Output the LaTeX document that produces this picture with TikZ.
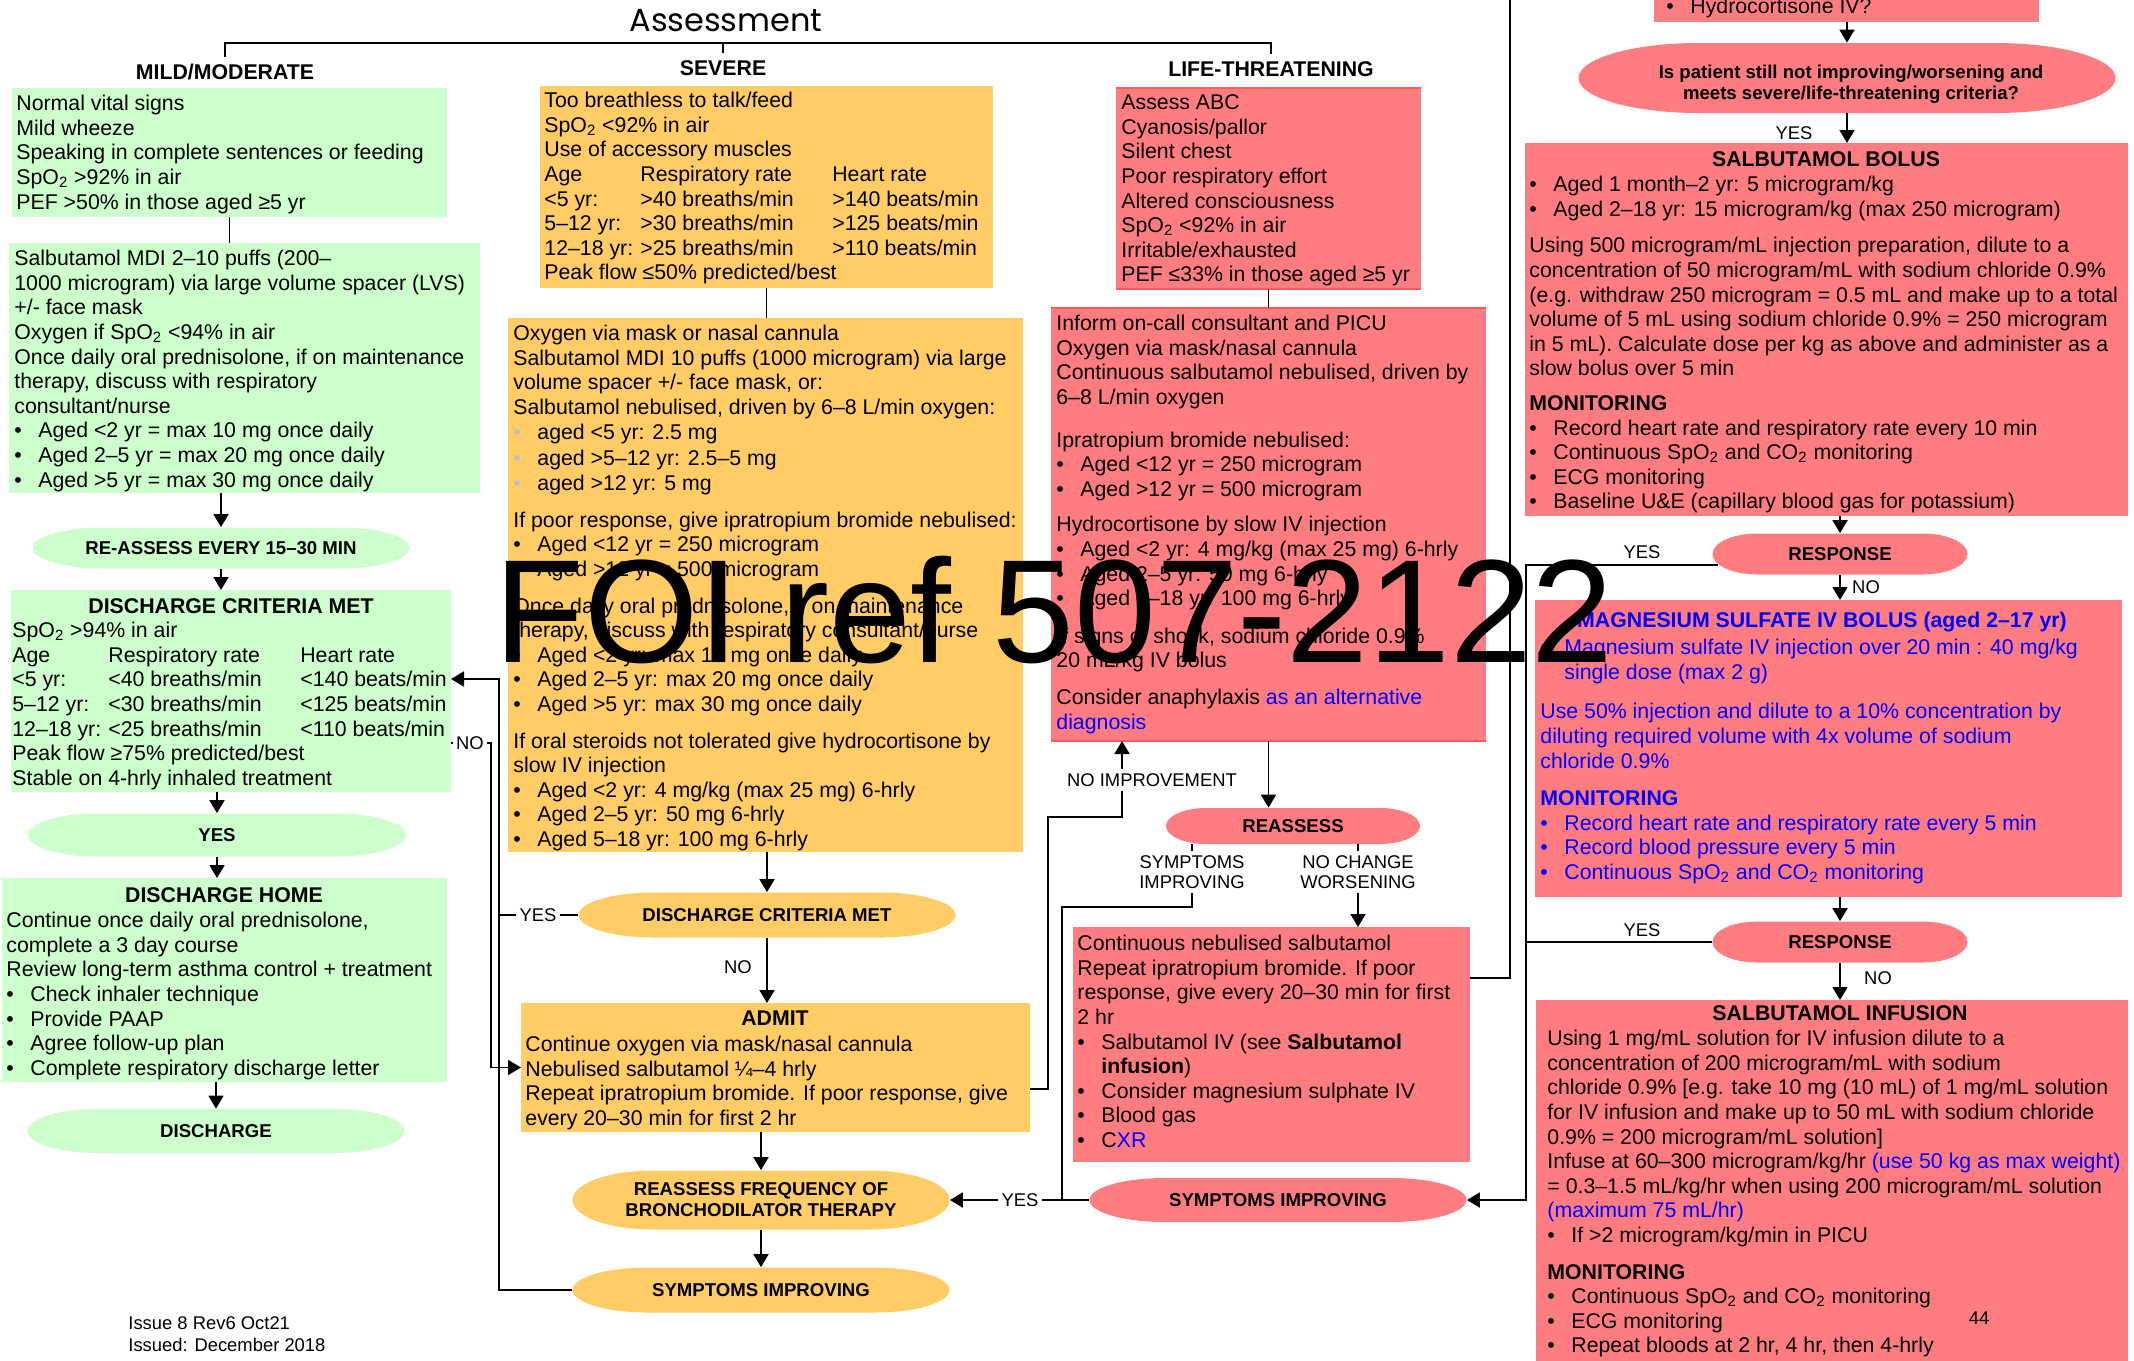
\documentclass[tikz,border=0pt]{standalone}
\usepackage{fontspec}
\setmainfont{Liberation Sans}
\newfontfamily\titlefont{Poppins}
\usetikzlibrary{arrows.meta}

\definecolor{mildgreen}{HTML}{CCFFCC}
\definecolor{severeorange}{HTML}{FFCC66}
\definecolor{lifered}{HTML}{FF7C80}
\definecolor{rimred}{HTML}{FF5A5A}
\definecolor{noteblue}{HTML}{0000FF}
\definecolor{bulgrey}{HTML}{BFBFBF}

\newcommand\bodyf{\fontsize{10.65}{12.3}\selectfont}
\newcommand\headf{\bfseries\fontsize{10.65}{12.3}\selectfont}
\newcommand\pillf{\bfseries\fontsize{9.3}{10.5}\selectfont}
\newcommand\labf{\fontsize{9.2}{10}\selectfont}
\newcommand\bul{\makebox[12pt][l]{\textbullet}}
\newcommand\gbul{\makebox[12pt][l]{\textcolor{bulgrey}{\textbullet}}}
\newcommand\contind{\hspace*{12pt}}
\newcommand\spo{SpO\textsubscript{2}}
\newcommand\cotwo{CO\textsubscript{2}}
\newcommand\trow[3]{\makebox[48pt][l]{#1}\makebox[96pt][l]{#2}#3}
\newcommand\nb[1]{\textcolor{noteblue}{#1}}

\tikzset{
  panel/.style={anchor=north west, inner sep=0pt, outer sep=0pt},
  txt/.style={anchor=north west, inner sep=0pt, align=left, font=\bodyf},
  head/.style={inner sep=0pt, font=\headf},
  colhead/.style={inner sep=3.5pt, text height=7.6pt, text depth=0pt, font=\headf},
  pilltext/.style={inner sep=0pt, align=center, font=\pillf},
  lab/.style={inner sep=2pt, align=center, font=\labf},
  conn/.style={line width=0.9pt, draw=black},
  arr/.style={conn, -{Triangle[width=7.5pt,length=6.5pt]}},
  redrim/.style={draw=rimred, line width=1.2pt},
}

% rectangular panel: name, x1, y1, x2, y2, colour
\newcommand\mkpanel[6]{\node[panel, fill=#6, minimum width={(#4-#2)*0.5pt}, minimum height={(#5-#3)*0.5pt}] (#1) at (#2,#3) {};}

% pill with elliptical end caps: name, cx, cy, width, height, cap radius, colour, text
\newcommand\mkpill[8]{%
  \fill[#7] ({#2-#4/2+#6},{#3-#5/2}) -- ({#2+#4/2-#6},{#3-#5/2})
    arc[start angle=90, end angle=-90, x radius={#6*0.5pt}, y radius={#5*0.25pt}]
    -- ({#2-#4/2+#6},{#3+#5/2})
    arc[start angle=270, end angle=90, x radius={#6*0.5pt}, y radius={#5*0.25pt}] -- cycle;
  \node[pilltext, minimum width={#4*0.5pt}, minimum height={#5*0.5pt}] (#1) at (#2,#3) {#8};}

\begin{document}
\begin{tikzpicture}[x=0.5pt, y=-0.5pt]
\path[use as bounding box] (0,0) rectangle (2134,1360);
\clip (0,0) rectangle (2134,1360);
\fill[white] (0,0) rectangle (2134,1360);

% ---------- title and severity headings ----------
\node[font={\titlefont\fontsize{16}{18}\selectfont}, inner sep=0pt] (ttl) at (726,21) {Assessment};
\node[colhead] (hmild) at (225,72) {MILD/MODERATE};
\node[colhead] (hsev) at (723,68) {SEVERE};
\node[colhead] (hlife) at (1271,69) {LIFE-THREATENING};
\coordinate (bar) at (723,43);
\draw[conn] (hmild.north) |- (bar) -| (hlife.north);
\draw[conn] (hsev.north) -- (hsev.north |- bar);

% ---------- mild / moderate ----------
\mkpanel{gb1}{12}{88}{447}{217}{mildgreen}
\node[txt] (gb1t) at (16,93) {\strut Normal vital signs\\Mild wheeze\\Speaking in complete sentences or feeding\\\spo{} >92\% in air\\PEF >50\% in those aged ≥5 yr};

\mkpanel{gb2}{9}{243}{480}{493}{mildgreen}
\node[txt] (gb2t) at (14,248) {\strut Salbutamol MDI 2–10 puffs (200–\\1000 microgram) via large volume spacer (LVS)\\+/- face mask\\Oxygen if \spo{} <94\% in air\\Once daily oral prednisolone, if on maintenance\\therapy, discuss with respiratory\\consultant/nurse\\\bul Aged <2 yr = max 10 mg once daily\\\bul Aged 2–5 yr = max 20 mg once daily\\\bul Aged >5 yr = max 30 mg once daily};

\mkpill{ea1}{221}{548}{377}{41}{70}{mildgreen}{RE-ASSESS EVERY 15–30 MIN}

\mkpanel{gb3}{11}{590}{451}{792}{mildgreen}
\node[head] (gb3h) at (231,606) {DISCHARGE CRITERIA MET};
\node[txt] (gb3t) at (12,620) {\strut \spo{} >94\% in air\\\trow{Age}{Respiratory rate}{Heart rate}\\\trow{<5 yr:}{<40 breaths/min}{<140 beats/min}\\\trow{5–12 yr:}{<30 breaths/min}{<125 beats/min}\\\trow{12–18 yr:}{<25 breaths/min}{<110 beats/min}\\Peak flow ≥75\% predicted/best\\Stable on 4-hrly inhaled treatment};

\mkpill{eyes}{217}{835}{378}{43}{70}{mildgreen}{YES}

\mkpanel{gb4}{2}{878}{447}{1082}{mildgreen}
\node[head] (gb4h) at (224,895) {DISCHARGE HOME};
\node[txt] (gb4t) at (6,910) {\strut Continue once daily oral prednisolone,\\complete a 3 day course\\Review long-term asthma control + treatment\\\bul Check inhaler technique\\\bul Provide PAAP\\\bul Agree follow-up plan\\\bul Complete respiratory discharge letter};

\mkpill{edis}{216}{1131}{377}{44}{70}{mildgreen}{DISCHARGE}

\node[lab, anchor=west, align=left, font={\fontsize{9.2}{11}\selectfont}] (foot) at (124,1334) {Issue 8 Rev6 Oct21\\Issued: December 2018};

\draw[conn] (gb1.south) -- (gb1.south |- gb2.north);
\draw[arr] (ea1.north |- gb2.south) -- (ea1.north);
\draw[arr] (ea1.south) -- (ea1.south |- gb3.north);
\draw[arr] (eyes.north |- gb3.south) -- (eyes.north);
\draw[arr] (eyes.south) -- (eyes.south |- gb4.north);
\draw[arr] (edis.north |- gb4.south) -- (edis.north);

% ---------- severe ----------
\mkpanel{ob1}{540}{86}{993}{288}{severeorange}
\node[txt] (ob1t) at (544,90) {\strut Too breathless to talk/feed\\\spo{} <92\% in air\\Use of accessory muscles\\\trow{Age}{Respiratory rate}{Heart rate}\\\trow{<5 yr:}{>40 breaths/min}{>140 beats/min}\\\trow{5–12 yr:}{>30 breaths/min}{>125 beats/min}\\\trow{12–18 yr:}{>25 breaths/min}{>110 beats/min}\\Peak flow ≤50\% predicted/best};

\mkpanel{ob2}{508}{318}{1023}{852}{severeorange}
\node[txt] (ob2t) at (513,323) {\strut Oxygen via mask or nasal cannula\\Salbutamol MDI 10 puffs (1000 microgram) via large\\volume spacer +/- face mask, or:\\Salbutamol nebulised, driven by 6–8 L/min oxygen:\\[0.4pt]\gbul aged <5 yr: 2.5 mg\\[0.4pt]\gbul aged >5–12 yr: 2.5–5 mg\\[0.4pt]\gbul aged >12 yr: 5 mg\\[6pt]If poor response, give ipratropium bromide nebulised:\\\bul Aged <12 yr = 250 microgram\\\bul Aged >12 yr = 500 microgram\\[6pt]Once daily oral prednisolone, if on maintenance\\therapy, discuss with respiratory consultant/nurse\\\bul Aged <2 yr: max 10 mg once daily\\\bul Aged 2–5 yr: max 20 mg once daily\\\bul Aged >5 yr: max 30 mg once daily\\[6pt]If oral steroids not tolerated give hydrocortisone by\\slow IV injection\\\bul Aged <2 yr: 4 mg/kg (max 25 mg) 6-hrly\\\bul Aged 2–5 yr: 50 mg 6-hrly\\\bul Aged 5–18 yr: 100 mg 6-hrly};

\mkpill{odcm}{767}{915}{377}{45}{75}{severeorange}{DISCHARGE CRITERIA MET}

\mkpanel{oadm}{521}{1003}{1030}{1132}{severeorange}
\node[head] (oadmh) at (775,1018) {ADMIT};
\node[txt] (oadmt) at (525,1034) {\strut Continue oxygen via mask/nasal cannula\\Nebulised salbutamol ¼–4 hrly\\Repeat ipratropium bromide. If poor response, give\\every 20–30 min for first 2 hr};

\mkpill{orf}{761}{1200}{377}{59}{80}{severeorange}{REASSESS FREQUENCY OF\\BRONCHODILATOR THERAPY}
\mkpill{osi}{761}{1290}{377}{45}{75}{severeorange}{SYMPTOMS IMPROVING}

\draw[conn] (ob1.south) -- (ob1.south |- ob2.north);
\draw[arr] (odcm.north |- ob2.south) -- (odcm.north);
\draw[arr] (odcm.south) -- (odcm.south |- oadm.north);
\node[lab] (lno2) at (738,967) {NO};
\draw[arr] (orf.north |- oadm.south) -- (orf.north);
\draw[arr] (orf.south) -- (osi.north);

% returns to the discharge criteria and on to admission
\coordinate (yx) at (499,679);
\draw[arr] (odcm.west) -| (yx) -- (gb3.east |- yx);
\draw[conn] (osi.west) -| (yx);
\node[lab, fill=white] (lyes1) at (538,915) {YES};
\coordinate (nol) at (491,743);
\draw[arr] (gb3.east |- nol) -- (nol) |- (oadm.west);
\node[lab, fill=white, inner sep=1.5pt] (lno1) at (470,743) {NO};

% ---------- life-threatening ----------
\mkpanel{rb1}{1116}{88}{1421}{289}{lifered}
\draw[redrim] (rb1.north west) -- (rb1.north east) (rb1.south west) -- (rb1.south east);
\node[txt] (rb1t) at (1121,92) {\strut Assess ABC\\Cyanosis/pallor\\Silent chest\\Poor respiratory effort\\Altered consciousness\\\spo{} <92\% in air\\Irritable/exhausted\\PEF ≤33\% in those aged ≥5 yr};

\mkpanel{rb2}{1051}{308}{1486}{741}{lifered}
\draw[redrim] (rb2.north west) -- (rb2.north east) (rb2.south west) -- (rb2.south east);
\node[txt] (rb2t) at (1056,313) {\strut Inform on-call consultant and PICU\\Oxygen via mask/nasal cannula\\Continuous salbutamol nebulised, driven by\\6–8 L/min oxygen\\[9pt]Ipratropium bromide nebulised:\\\bul Aged <12 yr = 250 microgram\\\bul Aged >12 yr = 500 microgram\\[5.5pt]Hydrocortisone by slow IV injection\\\bul Aged <2 yr: 4 mg/kg (max 25 mg) 6-hrly\\\bul Aged 2–5 yr: 50 mg 6-hrly\\\bul Aged 5–18 yr: 100 mg 6-hrly\\[6.5pt]If signs of shock, sodium chloride 0.9\%\\20 mL/kg IV bolus\\[6pt]Consider anaphylaxis \nb{as an alternative}\\\nb{diagnosis}};

\draw[conn] (rb1.south) -- (rb1.south |- rb2.north);

\mkpill{rre}{1293}{826}{254}{36}{40}{lifered}{REASSESS}
\draw[arr] (rb2.south) -- (rb2.south |- rre.north);
\node[lab] (lsymp) at (1192,872) {SYMPTOMS\\IMPROVING};
\node[lab] (lnochg) at (1358,872) {NO CHANGE\\WORSENING};
\draw[conn] (rre.south -| lsymp) -- (lsymp.north);
\draw[conn] (rre.south -| lnochg) -- (lnochg.north);

\mkpanel{rb3}{1073}{927}{1470}{1162}{lifered}
\draw[arr] (lnochg.south) -- (lnochg.south |- rb3.north);
\node[txt] (rb3t) at (1077,933) {\strut Continuous nebulised salbutamol\\Repeat ipratropium bromide. If poor\\response, give every 20–30 min for first\\2 hr\\\bul Salbutamol IV (see \textbf{Salbutamol}\\\contind\textbf{infusion})\\\bul Consider magnesium sulphate IV\\\bul Blood gas\\\bul C\nb{XR}};

\mkpill{rsi}{1278}{1200}{377}{44}{75}{lifered}{SYMPTOMS IMPROVING}
\draw[arr] (rsi.west) -- (orf.east);
\node[lab, fill=white] (lyes2) at (1020,1200) {YES};
\coordinate (sy1) at (1062,907);
\draw[conn] (lsymp.south) |- (sy1) -- (sy1 |- rsi.west);

\coordinate (niA) at (1048,1089);
\coordinate (niB) at (1122,817);
\draw[arr] (oadm.east |- niA) -- (niA) |- (niB) -- (niB |- rb2.south);
\node[lab, fill=white] (lni) at (1152,780) {NO IMPROVEMENT};

\coordinate (up1) at (1510,978);
\coordinate (topout) at (1510,0);
\draw[conn] (rb3.east |- up1) -- (up1) -- (topout);

% ---------- escalation column ----------
\mkpanel{rtop}{1654}{0}{2039}{22}{lifered}
\node[anchor=base west, inner sep=0pt, font=\bodyf] (rtopt) at (1666,13) {\bul Hydrocortisone IV?};

\mkpill{rq}{1847}{78}{537}{70}{120}{lifered}{}
\node[pilltext] (rqt) at (1851,84) {Is patient still not improving/worsening and\\meets severe/life-threatening criteria?};
\draw[arr] (rq.north |- rtop.south) -- (rq.north);

\mkpanel{rsb}{1525}{143}{2128}{516}{lifered}
\draw[arr] (rq.south) -- (rq.south |- rsb.north);
\node[lab] (lyes3) at (1794,133) {YES};
\node[head] (rsbh) at (1826,159) {SALBUTAMOL BOLUS};
\node[txt] (rsbt) at (1529,174) {\strut\bul Aged 1 month–2 yr: 5 microgram/kg\\\bul Aged 2–18 yr: 15 microgram/kg (max 250 microgram)\\[6pt]Using 500 microgram/mL injection preparation, dilute to a\\concentration of 50 microgram/mL with sodium chloride 0.9\%\\(e.g. withdraw 250 microgram = 0.5 mL and make up to a total\\volume of 5 mL using sodium chloride 0.9\% = 250 microgram\\in 5 mL). Calculate dose per kg as above and administer as a\\slow bolus over 5 min\\[5pt]\textbf{MONITORING}\\\bul Record heart rate and respiratory rate every 10 min\\\bul Continuous \spo{} and \cotwo{} monitoring\\\bul ECG monitoring\\\bul Baseline U\&E (capillary blood gas for potassium)};

\mkpill{rr1}{1840}{554}{255}{41}{45}{lifered}{RESPONSE}
\draw[arr] (rr1.north |- rsb.south) -- (rr1.north);
\coordinate (ry) at (1526,565);
\draw[arr] (rr1.west) ++(6,11) -- (ry) |- (rsi.east);
\node[lab] (lyes4) at (1642,552) {YES};

\mkpanel{rmg}{1535}{600}{2122}{897}{lifered}
\draw[arr] (rr1.south) -- (rr1.south |- rmg.north);
\node[lab] (lno3) at (1866,587) {NO};
\node[head, text=noteblue] (rmgh) at (1822,622) {MAGNESIUM SULFATE IV BOLUS (aged 2–17 yr)};
\node[txt, text=noteblue] (rmgt) at (1540,637) {\strut\bul Magnesium sulfate IV injection over 20 min : 40 mg/kg\\\contind single dose (max 2 g)\\[7.5pt]Use 50\% injection and dilute to a 10\% concentration by\\diluting required volume with 4x volume of sodium\\chloride 0.9\%\\[6.5pt]\textbf{MONITORING}\\\bul Record heart rate and respiratory rate every 5 min\\\bul Record blood pressure every 5 min\\\bul Continuous \spo{} and \cotwo{} monitoring};

\mkpill{rr2}{1840}{942}{255}{41}{45}{lifered}{RESPONSE}
\draw[arr] (rr2.north |- rmg.south) -- (rr2.north);
\draw[conn] (rr2.west) -- (rr2.west -| ry);
\node[lab] (lyes5) at (1642,930) {YES};

\mkpanel{rinf}{1536}{1000}{2128}{1370}{lifered}
\draw[arr] (rr2.south) -- (rr2.south |- rinf.north);
\node[lab] (lno4) at (1878,978) {NO};
\node[head] (rinfh) at (1840,1013) {SALBUTAMOL INFUSION};
\node[txt] (rinft) at (1547,1028) {\strut Using 1 mg/mL solution for IV infusion dilute to a\\concentration of 200 microgram/mL with sodium\\chloride 0.9\% [e.g. take 10 mg (10 mL) of 1 mg/mL solution\\for IV infusion and make up to 50 mL with sodium chloride\\0.9\% = 200 microgram/mL solution]\\Infuse at 60–300 microgram/kg/hr \nb{(use 50 kg as max weight)}\\= 0.3–1.5 mL/kg/hr when using 200 microgram/mL solution\\\nb{(maximum 75 mL/hr)}\\\bul If >2 microgram/kg/min in PICU\\[6pt]\textbf{MONITORING}\\\bul Continuous \spo{} and \cotwo{} monitoring\\\bul ECG monitoring\\\bul Repeat bloods at 2 hr, 4 hr, then 4-hrly};
\node[lab] (pgno) at (1979,1318) {44};

% ---------- reference stamp ----------
\node[anchor=base west, inner sep=0pt, font={\fontsize{73.5}{80}\selectfont}] (wm) at (494,662) {FOI ref 507-2122};
\end{tikzpicture}
\end{document}
